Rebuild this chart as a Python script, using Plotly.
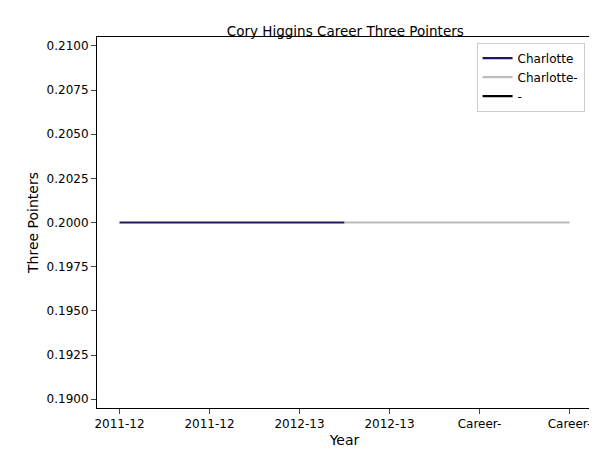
import plotly.graph_objects as go

tick_pos = [0, 1, 2, 3, 4, 5]
tick_labels = ["2011-12", "2011-12", "2012-13", "2012-13", "Career-", "Career-"]

charlotte_x = [0, 2.5]
charlotte_y = [0.2, 0.2]
career_x = [2.5, 5]
career_y = [0.2, 0.2]
dash_x = [5]
dash_y = [0.2]

fig = go.Figure()
fig.add_trace(go.Scatter(x=charlotte_x, y=charlotte_y, mode="lines", name="Charlotte",
                         line=dict(color="#1f1660", width=2.2)))
fig.add_trace(go.Scatter(x=career_x, y=career_y, mode="lines", name="Charlotte-",
                         line=dict(color="#bdbdbd", width=2.2)))
fig.add_trace(go.Scatter(x=dash_x, y=dash_y, mode="lines", name="-",
                         line=dict(color="black", width=2.2)))

fig.update_layout(
    width=597, height=453,
    margin=dict(l=89, r=13, t=29, b=53, autoexpand=False),
    plot_bgcolor="white", paper_bgcolor="white",
    font=dict(family="DejaVu Sans", size=12, color="black"),
    title=dict(text="Cory Higgins Career Three Pointers", x=0.565, xanchor="center",
               y=0.96, font=dict(size=13.5)),
    legend=dict(x=0.985, y=0.985, xanchor="right", yanchor="top",
                bordercolor="#cccccc", borderwidth=1, bgcolor="white",
                font=dict(size=12), tracegroupgap=0, itemwidth=30),
    showlegend=True,
)
fig.update_xaxes(range=[-0.25, 5.25], tickvals=tick_pos, ticktext=tick_labels,
                 showline=True, linecolor="black", mirror=True, ticks="outside",
                 showgrid=False, zeroline=False, automargin=False,
                 title=dict(text="Year", standoff=4))
fig.update_yaxes(range=[0.1895, 0.2105], dtick=0.0025, tickformat=".4f",
                 showline=True, linecolor="black", mirror=True, ticks="outside",
                 showgrid=False, zeroline=False, automargin=False,
                 title=dict(text="Three Pointers", standoff=4))

fig.write_html("out.html")
